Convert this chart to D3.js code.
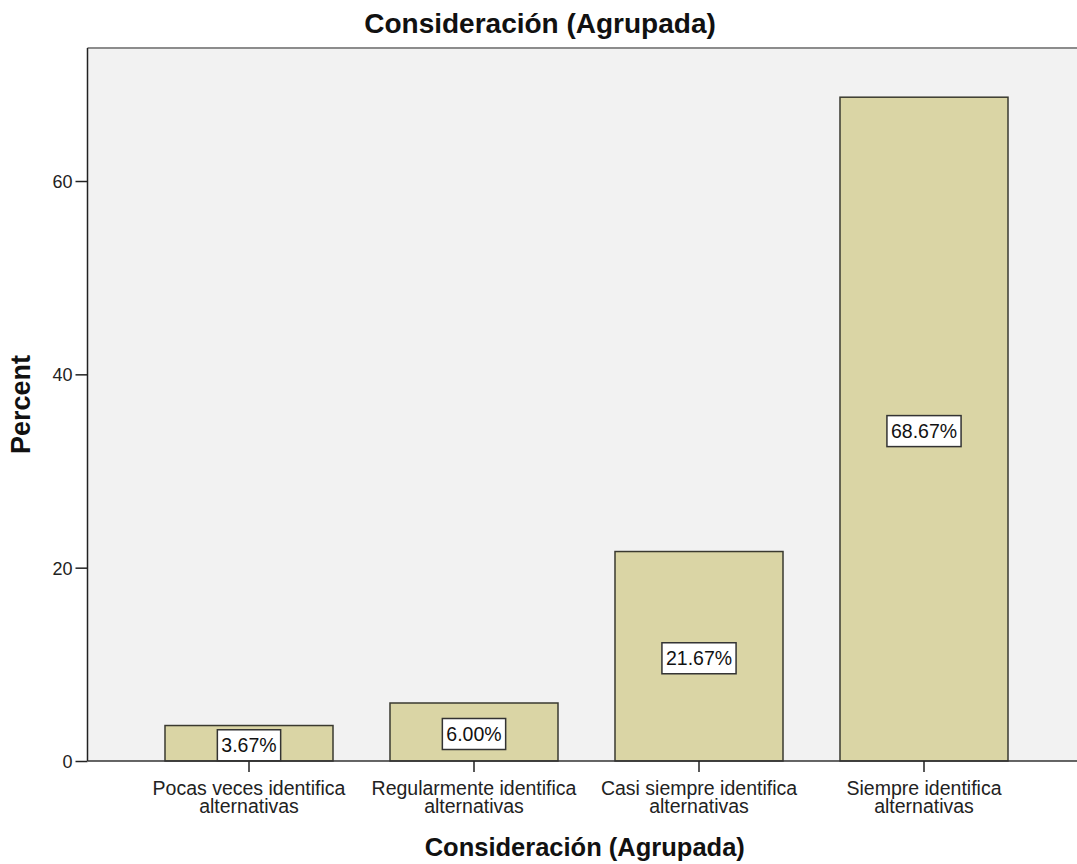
<!DOCTYPE html>
<html>
<head>
<meta charset="utf-8">
<script src="https://cdn.jsdelivr.net/npm/d3@7"></script>
<style>
  html, body { margin: 0; padding: 0; background: #ffffff; }
  svg { display: block; font-family: "Liberation Sans", Arial, sans-serif; }
</style>
</head>
<body>
<svg id="chart" width="1077" height="864"></svg>
<script>
// Category labels (line break marks the wrap point)
const categories = [
  "Pocas veces identifica\nalternativas",
  "Regularmente identifica\nalternativas",
  "Casi siempre identifica\nalternativas",
  "Siempre identifica\nalternativas"
];
// Percent of respondents in each group
const percents = [3.67, 6.00, 21.67, 68.67];
// Y axis ticks
const yTicks = [0, 20, 40, 60];

const chartTitle = "Consideración (Agrupada)";
const xTitle = "Consideración (Agrupada)";
const yTitle = "Percent";

const svg = d3.select("#chart");

const plot = { left: 87.5, top: 48, right: 1078, bottom: 761 };

const x = d3.scaleBand()
  .domain(categories)
  .range([136.5, 1036.5])
  .paddingInner(0.2533)
  .paddingOuter(0.12665);

const y = d3.scaleLinear()
  .domain([0, 73.76])
  .range([plot.bottom, plot.top]);

// Plot background
svg.append("rect")
  .attr("x", plot.left)
  .attr("y", plot.top)
  .attr("width", plot.right - plot.left)
  .attr("height", plot.bottom - plot.top)
  .attr("fill", "#f2f2f2");

// Top frame line
svg.append("line")
  .attr("x1", plot.left).attr("x2", plot.right)
  .attr("y1", plot.top).attr("y2", plot.top)
  .attr("stroke", "#8c8c8c").attr("stroke-width", 2);

// Bars
svg.append("g").selectAll("rect")
  .data(percents)
  .join("rect")
  .attr("x", (d, i) => x(categories[i]))
  .attr("y", d => y(d))
  .attr("width", x.bandwidth())
  .attr("height", d => y(0) - y(d))
  .attr("fill", "#dad5a5")
  .attr("stroke", "#3a3a30")
  .attr("stroke-width", 1.5);

// Y axis
const yAxis = svg.append("g")
  .attr("transform", `translate(${plot.left},0)`)
  .call(d3.axisLeft(y).tickValues(yTicks).tickSize(12).tickPadding(3).tickFormat(d3.format("d")));
yAxis.select(".domain").attr("stroke", "#222").attr("stroke-width", 1.5)
  .attr("d", `M0,${plot.top}V${plot.bottom}`);
yAxis.selectAll(".tick line").attr("stroke", "#222").attr("stroke-width", 1.5);
yAxis.selectAll(".tick text")
  .attr("font-size", 18).attr("fill", "#222")
  .attr("font-family", "'Liberation Sans', Arial, sans-serif")
  .attr("dy", "0.36em");

// X axis
const xAxis = svg.append("g")
  .attr("transform", `translate(0,${plot.bottom})`)
  .call(d3.axisBottom(x).tickSize(11).tickPadding(4).tickFormat(""));
xAxis.select(".domain").attr("stroke", "#333").attr("stroke-width", 1.5)
  .attr("d", `M${plot.left},0H${plot.right}`);
xAxis.selectAll(".tick line").attr("stroke", "#222").attr("stroke-width", 1.5);

// Two-line category labels
xAxis.selectAll(".tick").each(function (d) {
  const lines = d.split("\n");
  const t = d3.select(this).append("text")
    .attr("text-anchor", "middle")
    .attr("fill", "#222")
    .attr("font-size", 19.5)
    .attr("font-family", "'Liberation Sans', Arial, sans-serif");
  lines.forEach((ln, k) => {
    t.append("tspan").attr("x", 0).attr("y", 34 + k * 17.5).text(ln);
  });
});

// Value labels in boxes at the middle of each bar
const labels = svg.append("g").selectAll("g")
  .data(percents)
  .join("g")
  .attr("transform", (d, i) =>
    `translate(${x(categories[i]) + x.bandwidth() / 2},${(y(d) + y(0)) / 2 + 2})`);

labels.append("text")
  .attr("text-anchor", "middle")
  .attr("dy", "0.36em")
  .attr("font-size", 19.5)
  .attr("fill", "#111")
  .text(d => d.toFixed(2) + "%");

labels.each(function () {
  const g = d3.select(this);
  const bb = g.select("text").node().getBBox();
  g.insert("rect", "text")
    .attr("x", bb.x - 4)
    .attr("y", -15.5)
    .attr("width", bb.width + 8)
    .attr("height", 31)
    .attr("fill", "#ffffff")
    .attr("stroke", "#333")
    .attr("stroke-width", 1.5);
});

// Titles
svg.append("text")
  .attr("x", 540).attr("y", 33)
  .attr("text-anchor", "middle")
  .attr("font-size", 28).attr("font-weight", "bold").attr("fill", "#111")
  .text(chartTitle);

svg.append("text")
  .attr("x", (plot.left + plot.right) / 2 + 2).attr("y", 856)
  .attr("text-anchor", "middle")
  .attr("font-size", 25.5).attr("font-weight", "bold").attr("fill", "#111")
  .text(xTitle);

svg.append("text")
  .attr("transform", `translate(30,${(plot.top + plot.bottom) / 2}) rotate(-90)`)
  .attr("text-anchor", "middle")
  .attr("font-size", 27).attr("font-weight", "bold").attr("fill", "#111")
  .text(yTitle);
</script>
</body>
</html>
